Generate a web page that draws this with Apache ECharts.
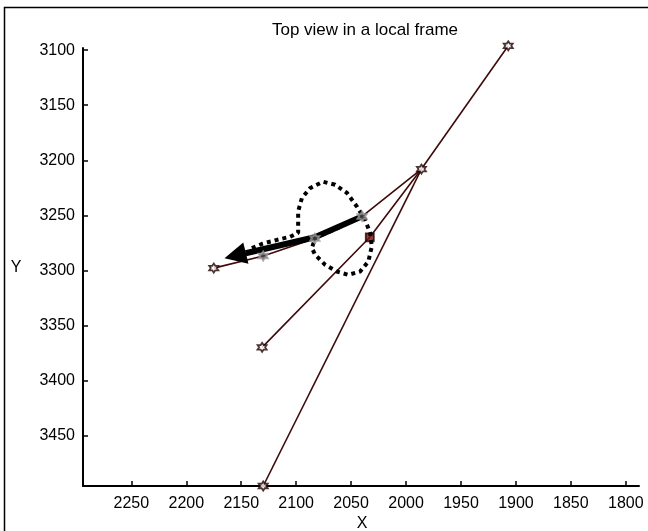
<!DOCTYPE html>
<html>
<head>
<meta charset="utf-8">
<script src="https://cdn.jsdelivr.net/npm/echarts@6/dist/echarts.min.js"></script>
<style>html,body{margin:0;padding:0;background:#fff;}#c{width:648px;height:531px;}</style>
</head>
<body>
<div id="c"></div>
<script>
// ---- data ----
const xTicks = [2250, 2200, 2150, 2100, 2050, 2000, 1950, 1900, 1850, 1800];
const yTicks = [3100, 3150, 3200, 3250, 3300, 3350, 3400, 3450];
const lineTop = [[1907, 3096], [1986, 3208]];
const lineBottom = [[1986, 3208], [2130, 3496]];
const lineMid = [[1986, 3208], [2033, 3270], [2131, 3370]];
const lineLeft = [[1986, 3208], [2040, 3251], [2083, 3271], [2130, 3287], [2175, 3298]];
const darkMarkers = [[1907, 3096], [1986, 3208], [2130, 3496], [2131, 3370], [2175, 3298]];
const squareMarkers = [[2033, 3270]];
const grayMarkers = [[2040, 3251], [2083, 3271], [2130, 3287]];
const arrowShaft = [[2040, 3251], [2083, 3270], [2146, 3284.5]];
const arrowHead = [[2146, 3284.5], [2155.5, 3286.8]];
const loopPath = [
  [2140.3, 3279.8], [2130.9, 3275.9], [2117.3, 3272.3], [2105.5, 3269.5], [2098.2, 3265.9],
  [2098.2, 3258.6], [2098.2, 3246.5], [2094.8, 3234.4], [2087.3, 3225.3], [2075.5, 3219.5],
  [2064.5, 3222.3], [2053.9, 3229.5], [2044.8, 3242.0], [2037.3, 3254.1], [2032.7, 3265.9],
  [2031.2, 3278.4], [2034.3, 3292.0], [2041.8, 3301.1], [2052.5, 3304.1], [2063.0, 3301.1],
  [2073.6, 3295.0], [2082.7, 3285.9], [2085.7, 3279.8], [2082.7, 3270.5], [2061.8, 3261.4],
  [2040.3, 3251.1]
];

const hexagram = 'path://M50 0 L64.4 25 L93.3 25 L78.9 50 L93.3 75 L64.4 75 L50 100 L35.6 75 L6.7 75 L21.1 50 L6.7 25 L35.6 25 Z';
const lineColor = '#3d0a0a';
const font = 'Liberation Sans, Arial, sans-serif';

function thin(data) {
  return {
    type: 'line', data: data, symbol: 'none', clip: false, z: 2,
    lineStyle: { color: lineColor, width: 1.6 }, silent: true, animation: false
  };
}

const chart = echarts.init(document.getElementById('c'), null, { renderer: 'canvas' });
chart.setOption({
  animation: false,
  backgroundColor: '#fff',
  grid: { left: 83, right: 9, top: 48, bottom: 45, containLabel: false },
  xAxis: {
    type: 'value', inverse: true, min: 1788, max: 2294, scale: true,
    axisLine: { show: true, onZero: false, lineStyle: { color: '#000', width: 2 } },
    axisTick: { show: true, inside: true, length: 5, customValues: xTicks, lineStyle: { color: '#000', width: 1.5 } },
    axisLabel: { customValues: xTicks, formatter: v => String(v), color: '#000', fontSize: 16, fontFamily: font, margin: 10 },
    splitLine: { show: false }
  },
  yAxis: {
    type: 'value', inverse: true, min: 3098, max: 3496, scale: true,
    axisLine: { show: true, onZero: false, lineStyle: { color: '#000', width: 2 } },
    axisTick: { show: true, inside: true, length: 5, customValues: yTicks, lineStyle: { color: '#000', width: 1.5 } },
    axisLabel: { customValues: yTicks, formatter: v => String(v), color: '#000', fontSize: 16, fontFamily: font, margin: 8 },
    splitLine: { show: false }
  },
  graphic: [
    { type: 'rect', shape: { x: 4.5, y: 7.5, width: 800, height: 700 }, style: { fill: 'none', stroke: '#000', lineWidth: 1.5 }, z: -10, silent: true },
    { type: 'text', x: 365, y: 30, style: { text: 'Top view in a local frame', fontSize: 17, fontFamily: font, fill: '#000', textAlign: 'center', textVerticalAlign: 'middle' } },
    { type: 'text', x: 362, y: 524, style: { text: 'X', fontSize: 16, fontFamily: font, fill: '#000', textAlign: 'center', textVerticalAlign: 'middle' } },
    { type: 'text', x: 16, y: 268, style: { text: 'Y', fontSize: 16, fontFamily: font, fill: '#000', textAlign: 'center', textVerticalAlign: 'middle' } }
  ],
  series: [
    thin(lineTop), thin(lineBottom), thin(lineMid), thin(lineLeft),
    {
      type: 'scatter', data: darkMarkers, symbol: hexagram, symbolSize: 9, clip: false, z: 3,
      itemStyle: { color: '#fff', borderColor: '#200000', borderWidth: 1.8 }
    },
    {
      type: 'scatter', data: squareMarkers, symbol: 'rect', symbolSize: 8, clip: false, z: 3,
      itemStyle: { color: '#7a1010', borderColor: '#200000', borderWidth: 1.8 }
    },
    {
      type: 'line', data: arrowShaft, symbol: 'none', clip: false, z: 4,
      lineStyle: { color: '#000', width: 6, cap: 'butt', join: 'round' }
    },
    {
      type: 'lines', coordinateSystem: 'cartesian2d', z: 4,
      symbol: ['none', 'triangle'], symbolSize: [20, 22],
      lineStyle: { color: '#000', width: 4, opacity: 1, curveness: 0 },
      data: [{ coords: arrowHead }]
    },
    {
      type: 'line', data: loopPath, symbol: 'none', clip: false, z: 5,
      lineStyle: { color: '#000', width: 4, type: [4, 4], cap: 'butt' }
    },
    {
      type: 'scatter', data: grayMarkers, symbol: hexagram, symbolSize: 9, clip: false, z: 6,
      itemStyle: { color: '#444', borderColor: '#999', borderWidth: 2 }
    }
  ]
});
</script>
</body>
</html>
